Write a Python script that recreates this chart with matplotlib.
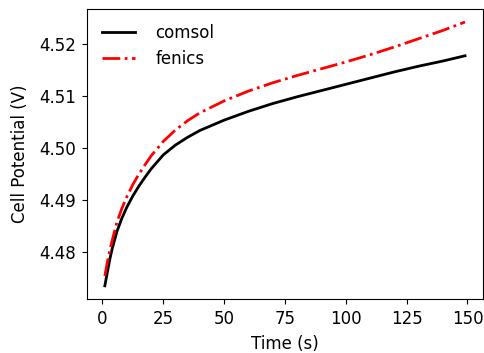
import matplotlib
matplotlib.use("Agg")
from matplotlib import pyplot as plt

# time (s) and cell potential (V)
t_comsol = [1, 2, 3, 4, 6, 8, 10, 12.5, 15, 17.5, 20, 25, 30, 35, 40, 50, 60, 70, 80, 90,
            100, 110, 120, 130, 140, 149]
v_comsol = [4.4735, 4.4760, 4.4785, 4.4806, 4.4840, 4.4865, 4.4886, 4.4908, 4.4927, 4.4944,
            4.4960, 4.4987, 4.5006, 4.5021, 4.5034, 4.5054, 4.5071, 4.5086, 4.5099, 4.5111,
            4.5123, 4.5135, 4.5147, 4.5158, 4.5168, 4.5178]

t_fenics = [1, 2, 3, 4, 6, 8, 10, 12.5, 15, 17.5, 20, 25, 30, 35, 40, 50, 60, 70, 80, 90,
            100, 110, 120, 130, 140, 149]
v_fenics = [4.4754, 4.4780, 4.4802, 4.4822, 4.4858, 4.4884, 4.4906, 4.4930, 4.4950, 4.4968,
            4.4985, 4.5013, 4.5035, 4.5053, 4.5068, 4.5091, 4.5110, 4.5126, 4.5140, 4.5153,
            4.5166, 4.5180, 4.5195, 4.5211, 4.5227, 4.5243]

plt.rcParams['font.size'] = 12

fig, ax = plt.subplots(figsize=(4.85, 3.53), dpi=100)
fig.subplots_adjust(left=0.179, right=0.996, bottom=0.153, top=0.975)

ax.plot(t_comsol, v_comsol, color='black', linestyle='-', linewidth=2, label='comsol')
ax.plot(t_fenics, v_fenics, color='red', linestyle='-.', linewidth=2, label='fenics')

ax.set_xlabel("Time (s)", labelpad=5)
ax.set_ylabel("Cell Potential (V)", labelpad=7)
ax.set_xticks([0, 25, 50, 75, 100, 125, 150])
ax.set_yticks([4.48, 4.49, 4.50, 4.51, 4.52])
ax.tick_params(pad=4.5)
ax.legend(loc='upper left', frameon=False, handletextpad=1.2)

fig.savefig("out.png", dpi=100)
